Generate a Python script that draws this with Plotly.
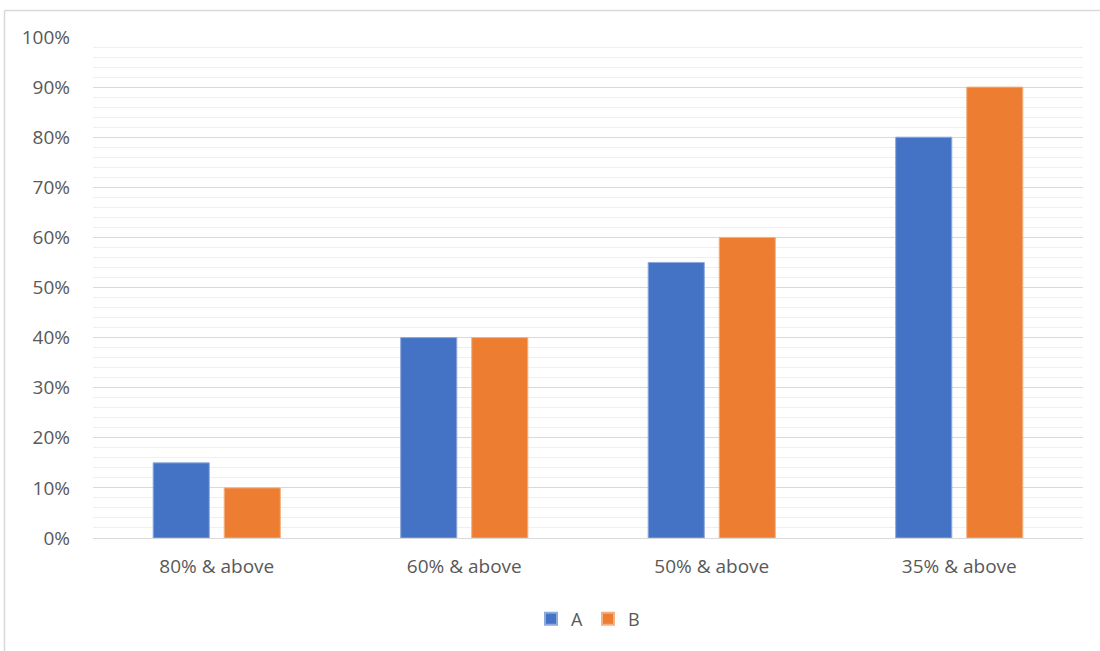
import plotly.graph_objects as go

categories = ["80% & above", "60% & above", "50% & above", "35% & above"]
series_a = [0.15, 0.40, 0.55, 0.80]
series_b = [0.10, 0.40, 0.60, 0.90]
y_ticks = [i / 10 for i in range(11)]
y_tick_labels = [f"{i * 10}%" for i in range(11)]

BLUE = "#4472C4"
ORANGE = "#ED7D31"
TEXT = "#595959"
FONT = "Open Sans, Liberation Sans, sans-serif"

fig = go.Figure()
fig.add_trace(go.Bar(
    name="A", x=categories, y=series_a,
    marker=dict(color=BLUE, line=dict(color="#8EA9DB", width=1)),
))
fig.add_trace(go.Bar(
    name="B", x=categories, y=series_b,
    marker=dict(color=ORANGE, line=dict(color="#F4B183", width=1)),
))

L, R, T, B = 93, 17, 37, 113
W, H = 1100, 651
pw, ph = W - L - R, H - T - B

def px_x(x):
    return (x - L) / pw

def px_y(y):
    return (H - B - y) / ph

# outer chart frame: top and left edges
fig.add_shape(type="line", xref="paper", yref="paper",
              x0=px_x(4.5), x1=px_x(1100), y0=px_y(10.5), y1=px_y(10.5),
              line=dict(color="#D9D9D9", width=1.5))
fig.add_shape(type="line", xref="paper", yref="paper",
              x0=px_x(4.5), x1=px_x(4.5), y0=px_y(10.5), y1=px_y(651),
              line=dict(color="#D9D9D9", width=1.5))

fig.update_layout(
    width=W, height=H,
    margin=dict(l=L, r=R, t=T, b=B),
    paper_bgcolor="white", plot_bgcolor="white",
    barmode="group", bargap=0.426, bargroupgap=0.21,
    font=dict(family=FONT, size=18, color=TEXT),
    showlegend=True,
    legend=dict(orientation="h", x=0.5, xanchor="center",
                y=px_y(619), yanchor="middle",
                font=dict(family=FONT, size=18, color=TEXT),
                itemwidth=30, itemsizing="constant", traceorder="normal"),
    xaxis=dict(
        showgrid=False, showline=True, linecolor="#D9D9D9", linewidth=1,
        ticks="", tickfont=dict(family=FONT, size=19, color=TEXT),
        ticklabelstandoff=11,
    ),
    yaxis=dict(
        range=[0, 1], tickvals=y_ticks, ticktext=y_tick_labels,
        showgrid=True, gridcolor="#D9D9D9", gridwidth=1,
        minor=dict(dtick=0.02, showgrid=True, gridcolor="#EFEFEF", gridwidth=1),
        zeroline=False, showline=False, ticks="",
        tickfont=dict(family=FONT, size=19, color=TEXT), ticklabelstandoff=22,
    ),
)

fig.write_html("out.html")
